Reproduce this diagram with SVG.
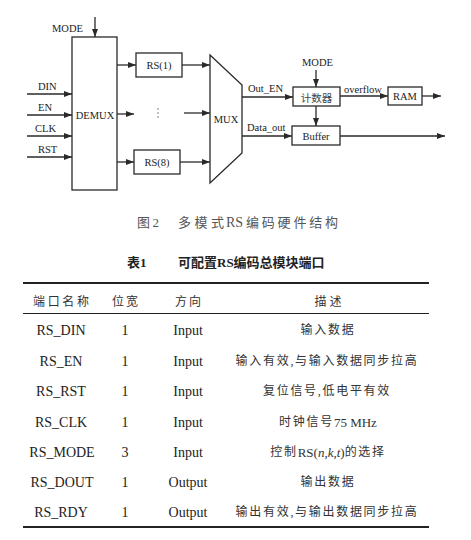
<svg xmlns="http://www.w3.org/2000/svg" width="471" height="540" viewBox="0 0 471 540">
<style>
.bx{fill:#fff;stroke:#2a2a2a;stroke-width:1.3}
.ln{fill:none;stroke:#2a2a2a;stroke-width:1.3}
.t{font-family:"Liberation Serif","Times New Roman",serif;font-size:10.5px;fill:#222}
.c{text-anchor:middle;dominant-baseline:central}
.cap{font-family:"Liberation Serif","Noto Sans CJK SC",serif;font-size:13px;fill:#555;dominant-baseline:central}
.tt{font-family:"Liberation Serif","Noto Sans CJK SC",serif;font-size:13px;font-weight:bold;fill:#222;dominant-baseline:central}
.hd{font-family:"Noto Sans CJK SC",sans-serif;font-size:12px;fill:#333;text-anchor:middle;dominant-baseline:central}
.td{font-family:"Liberation Serif","Noto Sans CJK SC",serif;font-size:14px;fill:#222;text-anchor:middle;dominant-baseline:central}
.ds{font-family:"Liberation Serif","Noto Sans CJK SC",sans-serif;font-size:12px;fill:#333;text-anchor:middle;dominant-baseline:central;letter-spacing:1.7px}
.la{letter-spacing:0;font-size:13px}
.rule{stroke:#222;fill:none}
</style>
<defs>
<marker id="ah" markerUnits="userSpaceOnUse" markerWidth="8" markerHeight="6" refX="8" refY="3" orient="auto">
<path d="M0,0 L8,3 L0,6 z" fill="#2a2a2a"/>
</marker>
</defs>

<g id="connectors">
<line class="ln" x1="95" y1="17" x2="95" y2="37" marker-end="url(#ah)"/>
<line class="ln" x1="27" y1="94" x2="72" y2="94" marker-end="url(#ah)"/>
<line class="ln" x1="27" y1="115" x2="72" y2="115" marker-end="url(#ah)"/>
<line class="ln" x1="27" y1="136" x2="72" y2="136" marker-end="url(#ah)"/>
<line class="ln" x1="27" y1="157" x2="72" y2="157" marker-end="url(#ah)"/>
<line class="ln" x1="117" y1="65" x2="136" y2="65" marker-end="url(#ah)"/>
<line class="ln" x1="117" y1="114" x2="134" y2="114" marker-end="url(#ah)"/>
<line class="ln" x1="117" y1="162" x2="134" y2="162" marker-end="url(#ah)"/>
<line class="ln" x1="182" y1="65" x2="210" y2="65" marker-end="url(#ah)"/>
<line class="ln" x1="184" y1="113" x2="210" y2="113" marker-end="url(#ah)"/>
<line class="ln" x1="180" y1="162" x2="210" y2="162" marker-end="url(#ah)"/>
<line class="ln" x1="242" y1="97" x2="293" y2="97" marker-end="url(#ah)"/>
<line class="ln" x1="242" y1="136" x2="292" y2="136" marker-end="url(#ah)"/>
<line class="ln" x1="316" y1="70" x2="316" y2="87" marker-end="url(#ah)"/>
<line class="ln" x1="316" y1="106" x2="316" y2="126" marker-end="url(#ah)"/>
<line class="ln" x1="340" y1="96" x2="388" y2="96" marker-end="url(#ah)"/>
<line class="ln" x1="422" y1="96" x2="441" y2="96" marker-end="url(#ah)"/>
<line class="ln" x1="340" y1="136" x2="445" y2="136" marker-end="url(#ah)"/>
<text class="t" x="52" y="32">MODE</text>
<text class="t" x="38" y="90">DIN</text>
<text class="t" x="38" y="111">EN</text>
<text class="t" x="35" y="132">CLK</text>
<text class="t" x="38" y="153">RST</text>
<text class="t" x="248" y="92">Out_EN</text>
<text class="t" x="247" y="131">Data_out</text>
<text class="t" x="302" y="66">MODE</text>
<text class="t" x="344" y="93">overflow</text>
<g fill="#555"><circle cx="158" cy="109" r="0.7"/><circle cx="158" cy="113" r="0.7"/><circle cx="158" cy="117" r="0.7"/></g>
</g>

<g id="demux"><rect class="bx" x="72" y="37" width="45" height="153"/><text class="t c" x="95" y="115">DEMUX</text></g>
<g id="rs1"><rect class="bx" x="136" y="53" width="46" height="24"/><text class="t c" x="159" y="65">RS(1)</text></g>
<g id="rs8"><rect class="bx" x="134" y="150" width="46" height="24"/><text class="t c" x="157" y="162">RS(8)</text></g>
<g id="mux"><polygon class="bx" points="210,55 242,85 242,153 210,183"/><text class="t c" x="226" y="119">MUX</text></g>
<g id="counter"><rect class="bx" x="293" y="87" width="47" height="19"/><text class="c" x="316.5" y="97" style="font-family:'Noto Sans CJK SC',sans-serif;font-size:10.5px;fill:#444">计数器</text></g>
<g id="ram"><rect class="bx" x="388" y="87" width="34" height="18"/><text class="t c" x="405" y="96">RAM</text></g>
<g id="buffer"><rect class="bx" x="292" y="126" width="48" height="19"/><text class="t c" x="316" y="136">Buffer</text></g>

<g id="caption">
<text class="cap" x="137" y="222" textLength="22" lengthAdjust="spacing">图2</text>
<text class="cap" x="178" y="222" textLength="46" lengthAdjust="spacing">多模式</text>
<text class="cap" x="226" y="222" style="font-size:14px">RS</text>
<text class="cap" x="246" y="222" textLength="92" lengthAdjust="spacing">编码硬件结构</text>
<text class="tt" x="127" y="262">表1</text>
<text class="tt" x="178" y="262">可配置RS编码总模块端口</text>
</g>

<g id="table">
<line class="rule" x1="23" y1="283" x2="429" y2="283" stroke-width="2"/>
<line class="rule" x1="23" y1="313.5" x2="429" y2="313.5" stroke-width="1"/>
<line class="rule" x1="23" y1="527" x2="429" y2="527" stroke-width="2"/>
<text class="hd" x="61" y="300" textLength="56" lengthAdjust="spacing">端口名称</text>
<text class="hd" x="125" y="300" textLength="26" lengthAdjust="spacing">位宽</text>
<text class="hd" x="188" y="300" textLength="26" lengthAdjust="spacing">方向</text>
<text class="hd" x="328" y="300" textLength="27" lengthAdjust="spacing">描述</text>

<text class="td" x="61" y="330">RS_DIN</text>
<text class="td" x="125" y="330">1</text>
<text class="td" x="188" y="330">Input</text>
<text class="ds" x="328" y="330">输入数据</text>

<text class="td" x="61" y="361">RS_EN</text>
<text class="td" x="125" y="361">1</text>
<text class="td" x="188" y="361">Input</text>
<text class="ds" x="327" y="361">输入有效,与输入数据同步拉高</text>

<text class="td" x="61" y="391">RS_RST</text>
<text class="td" x="125" y="391">1</text>
<text class="td" x="188" y="391">Input</text>
<text class="ds" x="327" y="391">复位信号,低电平有效</text>

<text class="td" x="61" y="422">RS_CLK</text>
<text class="td" x="125" y="422">1</text>
<text class="td" x="188" y="422">Input</text>
<text class="ds" x="328" y="422">时钟信号<tspan class="la">75 MHz</tspan></text>

<text class="td" x="62" y="452">RS_MODE</text>
<text class="td" x="125" y="452">3</text>
<text class="td" x="188" y="452">Input</text>
<text class="ds" x="328" y="452">控制<tspan class="la">RS(<tspan font-style="italic">n</tspan>,<tspan font-style="italic">k</tspan>,<tspan font-style="italic">t</tspan>)</tspan>的选择</text>

<text class="td" x="62" y="482">RS_DOUT</text>
<text class="td" x="125" y="482">1</text>
<text class="td" x="188" y="482">Output</text>
<text class="ds" x="328" y="482">输出数据</text>

<text class="td" x="61" y="512">RS_RDY</text>
<text class="td" x="125" y="512">1</text>
<text class="td" x="188" y="512">Output</text>
<text class="ds" x="327" y="512">输出有效,与输出数据同步拉高</text>
</g>
</svg>
